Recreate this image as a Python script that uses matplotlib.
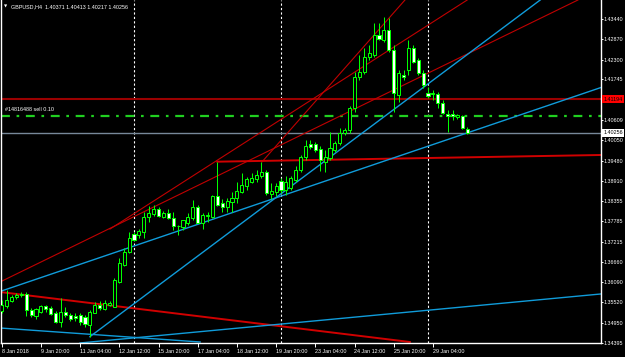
import matplotlib
matplotlib.use('Agg')
import matplotlib.pyplot as plt
from matplotlib.patches import Rectangle

# ---------------- data ----------------
opens = [1.35280, 1.35419, 1.35567, 1.35671, 1.35727, 1.35755, 1.35308, 1.35140, 1.35260, 1.35419,
         1.35372, 1.35232, 1.34981, 1.35260, 1.35168, 1.35126, 1.35168, 1.35104, 1.34889, 1.35232,
         1.35447, 1.35336, 1.35447, 1.35400, 1.36098, 1.36564, 1.36935, 1.37429, 1.37401, 1.37494,
         1.37912, 1.37988, 1.38119, 1.37912, 1.38016, 1.37884, 1.37653, 1.37633, 1.37745, 1.37868,
         1.38175, 1.37728, 1.37932, 1.37912, 1.38490, 1.38287, 1.38192, 1.38331, 1.38426, 1.38611,
         1.38769, 1.38889, 1.38956, 1.39049, 1.39160, 1.38546, 1.38602, 1.38909, 1.38658, 1.38714,
         1.38937, 1.39216, 1.39587, 1.39942, 1.39942, 1.39802, 1.39448, 1.39551, 1.39775, 1.39970,
         1.40249, 1.40333, 1.40947, 1.41812, 1.41952, 1.42379, 1.42427, 1.42985, 1.42845, 1.43124,
         1.42566, 1.41310, 1.41868, 1.42008, 1.42614, 1.42287, 1.41932, 1.41374, 1.41338, 1.41338,
         1.41078, 1.40779, 1.40779, 1.40696, 1.40724, 1.40371]
highs = [1.35587, 1.35866, 1.35727, 1.35782, 1.35810, 1.35810, 1.35364, 1.35364, 1.35447, 1.35447,
         1.35419, 1.35280, 1.35643, 1.35400, 1.35224, 1.35216, 1.35224, 1.35168, 1.35308, 1.35540,
         1.35559, 1.35587, 1.35559, 1.36201, 1.36759, 1.37039, 1.37485, 1.37485, 1.37569, 1.38052,
         1.38211, 1.38239, 1.38183, 1.38072, 1.38127, 1.38052, 1.37681, 1.37820, 1.38007, 1.38379,
         1.38239, 1.38016, 1.38052, 1.38518, 1.39448, 1.38407, 1.38435, 1.38611, 1.38889, 1.39141,
         1.39029, 1.39132, 1.39216, 1.39448, 1.39216, 1.38853, 1.38853, 1.38993, 1.39049, 1.39049,
         1.39328, 1.39635, 1.40054, 1.40054, 1.39998, 1.39886, 1.39775, 1.40277, 1.40026, 1.40389,
         1.40389, 1.41003, 1.41960, 1.42427, 1.42630, 1.42706, 1.43312, 1.43320, 1.43479, 1.43451,
         1.42706, 1.42008, 1.42008, 1.42845, 1.42706, 1.42343, 1.42008, 1.41533, 1.41449, 1.41394,
         1.41170, 1.40891, 1.40891, 1.40779, 1.40752, 1.40413]
lows = [1.35224, 1.35364, 1.35531, 1.35615, 1.35671, 1.35140, 1.35112, 1.35057, 1.35224, 1.35252,
        1.35168, 1.34945, 1.34841, 1.35112, 1.35001, 1.35009, 1.34889, 1.34841, 1.34562, 1.35216,
        1.35308, 1.35308, 1.35419, 1.35392, 1.36061, 1.36536, 1.36899, 1.37234, 1.37318, 1.37318,
        1.37773, 1.37932, 1.37904, 1.37876, 1.37848, 1.37541, 1.37401, 1.37541, 1.37681, 1.37820,
        1.37728, 1.37561, 1.37773, 1.37876, 1.38211, 1.38052, 1.38052, 1.38052, 1.38287, 1.38574,
        1.38658, 1.38853, 1.38889, 1.38993, 1.38518, 1.38407, 1.38490, 1.38574, 1.38518, 1.38658,
        1.38881, 1.39160, 1.39495, 1.39802, 1.39719, 1.39188, 1.39169, 1.39495, 1.39719, 1.39914,
        1.40193, 1.40249, 1.40835, 1.41729, 1.41896, 1.42287, 1.42371, 1.42845, 1.42789, 1.42510,
        1.40844, 1.41123, 1.41729, 1.41868, 1.42203, 1.41868, 1.41505, 1.41226, 1.41170, 1.40947,
        1.40779, 1.40285, 1.40612, 1.40640, 1.40361, 1.40217]
closes = [1.35447, 1.35587, 1.35662, 1.35727, 1.35741, 1.35308, 1.35168, 1.35322, 1.35419, 1.35344,
          1.35196, 1.34981, 1.35260, 1.35168, 1.35048, 1.35084, 1.34981, 1.34917, 1.35260, 1.35447,
          1.35364, 1.35495, 1.35503, 1.36145, 1.36611, 1.36935, 1.37309, 1.37262, 1.37513, 1.37912,
          1.38007, 1.38119, 1.37932, 1.38024, 1.37876, 1.37653, 1.37644, 1.37820, 1.37912, 1.38175,
          1.37745, 1.37960, 1.37960, 1.38490, 1.38239, 1.38192, 1.38359, 1.38443, 1.38638, 1.38797,
          1.38956, 1.38984, 1.39077, 1.39160, 1.38582, 1.38630, 1.38769, 1.38658, 1.38881, 1.38993,
          1.39216, 1.39587, 1.39886, 1.39858, 1.39775, 1.39495, 1.39587, 1.39830, 1.39970, 1.40249,
          1.40333, 1.40947, 1.41812, 1.41952, 1.42371, 1.42474, 1.42985, 1.42865, 1.43124, 1.42566,
          1.41357, 1.41916, 1.41821, 1.42614, 1.42240, 1.41916, 1.41589, 1.41282, 1.41357, 1.41078,
          1.40799, 1.40724, 1.40724, 1.40752, 1.40380, 1.40256]

x_tick_bars = [0, 8, 16, 24, 32, 40, 48, 56, 64, 72, 80, 88]
x_tick_labels = ["8 Jan 2018", "9 Jan 20:00", "11 Jan 04:00", "12 Jan 12:00", "15 Jan 20:00",
                 "17 Jan 04:00", "18 Jan 12:00", "19 Jan 20:00", "23 Jan 04:00", "24 Jan 12:00",
                 "25 Jan 20:00", "29 Jan 04:00"]
y_tick_labels = ["1.43440", "1.42870", "1.42300", "1.41745", "1.40609", "1.40050", "1.39480",
                 "1.38910", "1.38355", "1.37785", "1.37215", "1.36660", "1.36090", "1.35520",
                 "1.34950", "1.34395"]
week_separators = [27, 57, 87]

symbol = "GBPUSD,H4"
hline_price = 1.41194
order_price = 1.40724
order_text = "#14816488 sell 0.10"
bid_price = 1.40256

# trendlines: (bar0, price0, bar1, price1)
red_thick = [(-0.35, 1.35810, 83.3, 1.34414),
             (44.0, 1.39448, 122.3, 1.39635)]
red_thin = [(-0.35, 1.36089, 117.6, 1.43962),
            (22.1, 1.37568, 95.0, 1.43962),
            (53.1, 1.39439, 82.3, 1.43962)]
blue_lines = [(-0.35, 1.35824, 122.3, 1.41519),
              (18.0, 1.34562, 109.9, 1.43962),
              (16.0, 1.34387, 122.3, 1.35755),
              (-0.35, 1.34805, 40.5, 1.34414)]

# ---------------- figure ----------------
W, H = 625, 357
fig = plt.figure(figsize=(W / 100, H / 100), dpi=100, facecolor='black')
ax_l, ax_r, ax_t, ax_b = 1, 601, 0, 343
ax = fig.add_axes([ax_l / W, 1 - ax_b / H, (ax_r - ax_l) / W, (ax_b - ax_t) / H])
ax.set_facecolor('black')

px_per_bar = 4.9
x0 = (ax_l - 1.7) / px_per_bar
x1 = (ax_r - 1.7) / px_per_bar
ax.set_xlim(x0, x1)
ax.set_ylim(1.34386, 1.43962)

GREEN = '#00FF00'
lw1 = 0.72

# separators
for s in week_separators:
    ax.axvline(s, color='white', lw=0.8, ls=(0, (2, 2)), zorder=1)

# horizontal lines
ax.axhline(hline_price, color='#9B0000', lw=1.5, zorder=2)
ax.axhline(bid_price, color='#778899', lw=1.0, zorder=2)
ax.axhline(order_price, color='#20D020', lw=1.6, ls=(0, (4, 3, 1.2, 3)), zorder=2)

for (a, p, b, q) in red_thin:
    ax.plot([a, b], [p, q], color='#C00000', lw=0.8, zorder=2)
for (a, p, b, q) in red_thick:
    ax.plot([a, b], [p, q], color='#D00000', lw=1.4, zorder=2)
for (a, p, b, q) in blue_lines:
    ax.plot([a, b], [p, q], color='#109CDA', lw=1.0, zorder=2)

# candles
bw = 0.62
for i, (o, h, l, c) in enumerate(zip(opens, highs, lows, closes)):
    ax.plot([i, i], [l, h], color=GREEN, lw=lw1, zorder=3, solid_capstyle='butt')
    lo, hi = min(o, c), max(o, c)
    fc = 'black' if c >= o else 'white'
    if hi - lo < 0.00008:
        ax.plot([i - bw / 2, i + bw / 2], [c, c], color=GREEN, lw=lw1, zorder=4)
    else:
        ax.add_patch(Rectangle((i - bw / 2, lo), bw, hi - lo, facecolor=fc,
                               edgecolor=GREEN, lw=lw1, zorder=4))

# spines
ax.spines['top'].set_visible(False)
for sp in ['left', 'right', 'bottom']:
    ax.spines[sp].set_color('white')
    ax.spines[sp].set_linewidth(1.0)

FS = 3.9
FONT = 'Liberation Sans'
ax.yaxis.tick_right()
ax.set_yticks([float(v) for v in y_tick_labels])
ax.set_yticklabels(y_tick_labels)
ax.set_xticks(x_tick_bars)
ax.set_xticklabels(x_tick_labels)
ax.tick_params(axis='y', colors='white', labelsize=FS, length=1.5, width=0.7, pad=0.7)
ax.tick_params(axis='x', colors='white', labelsize=FS, length=3, width=0.7, pad=1.5)
for lab in ax.get_yticklabels() + ax.get_xticklabels():
    lab.set_fontfamily(FONT)
for lab in ax.get_xticklabels():
    lab.set_horizontalalignment('left')

# right-side price boxes
ax.text(1.0035, hline_price, f"{hline_price:.5f}", transform=ax.get_yaxis_transform(),
        fontsize=FS, family=FONT, color='black', va='center', ha='left',
        bbox=dict(boxstyle='square,pad=0.25', fc='#FF0000', ec='none'), zorder=10, clip_on=False)
ax.text(1.0035, bid_price, f"{bid_price:.5f}", transform=ax.get_yaxis_transform(),
        fontsize=FS, family=FONT, color='black', va='center', ha='left',
        bbox=dict(boxstyle='square,pad=0.25', fc='white', ec='none'), zorder=10, clip_on=False)

# order text
ax.text(0.006, order_price + 0.0011, order_text, transform=ax.get_yaxis_transform(),
        fontsize=FS, family=FONT, color='white', va='bottom', ha='left', zorder=10)

# header
header = f"{symbol}  {opens[-1]:.5f} {highs[-1]:.5f} {lows[-1]:.5f} {closes[-1]:.5f}"
fig.text(11 / W, 1 - 6.5 / H, header, fontsize=FS, family=FONT, color='white', va='center', ha='left')
fig.text(4 / W, 1 - 6.5 / H, "\u25BC", fontsize=3, family='DejaVu Sans', color='white', va='center', ha='left')

fig.savefig('out.png', dpi=100, facecolor='black')
